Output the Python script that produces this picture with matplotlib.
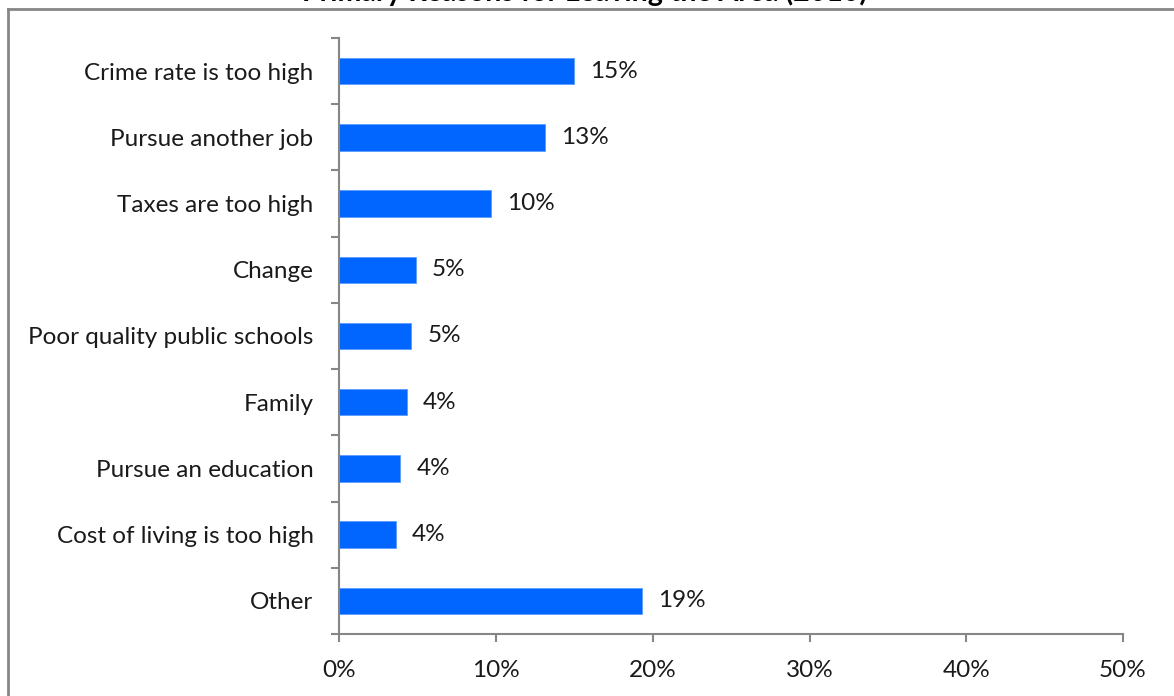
import matplotlib
matplotlib.use("Agg")
import matplotlib.pyplot as plt
from matplotlib.lines import Line2D

categories = [
    "Crime rate is too high",
    "Pursue another job",
    "Taxes are too high",
    "Change",
    "Poor quality public schools",
    "Family",
    "Pursue an education",
    "Cost of living is too high",
    "Other",
]
shares = [15.0, 13.1, 9.7, 4.9, 4.6, 4.3, 3.9, 3.6, 19.3]
value_labels = ["15%", "13%", "10%", "5%", "5%", "4%", "4%", "4%", "19%"]
x_ticks = [0, 10, 20, 30, 40, 50]
x_tick_labels = ["0%", "10%", "20%", "30%", "40%", "50%"]
title = "Primary Reasons for Leaving the Area (2010)"

W, H = 1174, 696
fig = plt.figure(figsize=(W / 100, H / 100), dpi=100)
plt.rcParams["font.family"] = ["Lato", "DejaVu Sans"]

FS = 17.5
TXT = "#1a1a1a"

left, right = 339.3, 1123.0
top, bottom = 38.0, 634.0
ax = fig.add_axes([left / W, 1 - bottom / H, (right - left) / W, (bottom - top) / H])

n = len(categories)
ypos = list(range(n))
bar_color = "#0066FF"
ax.barh(ypos, shares, height=0.4, color=bar_color, edgecolor="#5B9BFF", linewidth=0.6)

for y, v, lab in zip(ypos, shares, value_labels):
    ax.annotate(lab, (v, y), xytext=(16, 0), textcoords="offset pixels",
                va="center", ha="left", fontsize=FS, color=TXT)

ax.set_ylim(n - 0.5, -0.5)
ax.set_xlim(0, 50)
ax.set_xticks(x_ticks)
ax.set_xticklabels(x_tick_labels, fontsize=FS, color=TXT)
ax.set_yticks(ypos)
ax.set_yticklabels(categories, fontsize=FS, color=TXT)

# category ticks sit on the boundaries between bars
ax.set_yticks([i - 0.5 for i in range(n + 1)], minor=True)
ax.tick_params(axis="y", which="major", length=0, pad=18.5)
ax.tick_params(axis="y", which="minor", length=6, width=1.5, color="#868686", direction="out")
ax.tick_params(axis="x", which="major", length=6, width=1.5, color="#868686", direction="out", pad=13)

for side in ("top", "right"):
    ax.spines[side].set_visible(False)
for side in ("left", "bottom"):
    ax.spines[side].set_color("#868686")
    ax.spines[side].set_linewidth(1.5)

# outer chart frame
fy = 1 - 8.5 / H
fx = 7.5 / W
fig.add_artist(Line2D([fx, 1.0], [fy, fy], transform=fig.transFigure, color="#868686", lw=2))
fig.add_artist(Line2D([fx, fx], [0, fy], transform=fig.transFigure, color="#868686", lw=2))

fig.text(585 / W, 1 - 1.5 / H, title, ha="center", va="baseline", fontsize=20.5,
         fontweight="bold", color="#000000")

fig.savefig("out.png", dpi=100, facecolor="white")
